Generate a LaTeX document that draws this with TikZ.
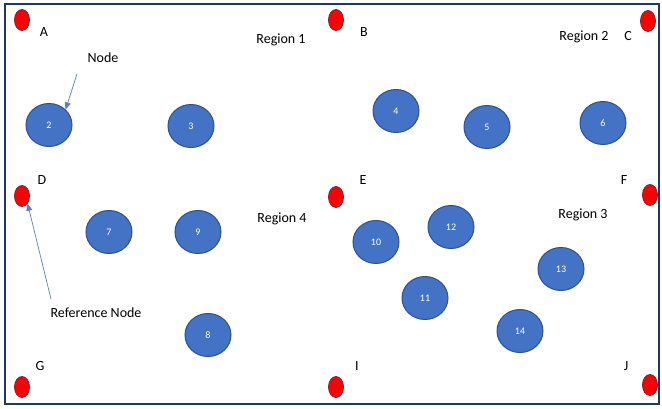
\documentclass[tikz,border=0pt]{standalone}
\usepackage{fontspec}
\setmainfont{Carlito}
\usetikzlibrary{shapes.geometric,arrows.meta}
\definecolor{frame}{HTML}{1F3864}
\definecolor{bluefill}{HTML}{4472C4}
\definecolor{blueline}{HTML}{2F528F}
\definecolor{arrowcol}{HTML}{5B7FB5}
\definecolor{redline}{HTML}{7A1F3D}
\begin{document}
\begin{tikzpicture}[x=1pt,y=-1pt,
  refnode/.style={ellipse,draw=redline,fill=red,line width=0.8pt,minimum width=15pt,minimum height=21pt,inner sep=0pt},
  sensor/.style={ellipse,draw=blueline,fill=bluefill,line width=1pt,minimum width=46pt,minimum height=43pt,inner sep=0pt,text=white,font=\fontsize{10}{12}\selectfont},
  lbl/.style={font=\fontsize{14}{16}\selectfont,text=black,inner sep=0pt},
  pointer/.style={draw=arrowcol,line width=0.7pt,-{Triangle[length=7pt,width=6pt]}}
]
\useasboundingbox (0,0) rectangle (662,409);
\fill[white] (0,0) rectangle (662,409);
\draw[frame,line width=1.6pt] (5,4) rectangle (659,404);
% reference nodes
\node[refnode] (A) at (22,20) {};
\node[refnode] (B) at (336,20) {};
\node[refnode] (C) at (648,21) {};
\node[refnode] (D) at (22,196) {};
\node[refnode] (E) at (336,197) {};
\node[refnode] (F) at (650,195) {};
\node[refnode] (G) at (22,387) {};
\node[refnode] (I) at (336,387) {};
\node[refnode] (J) at (650,385) {};
% letters
\node[lbl] (lA) at (44,32) {A};
\node[lbl] (lB) at (364,32) {B};
\node[lbl] (lC) at (628,36) {C};
\node[lbl] (lD) at (42,180) {D};
\node[lbl] (lE) at (363,180) {E};
\node[lbl] (lF) at (624,180) {F};
\node[lbl] (lG) at (40,366) {G};
\node[lbl] (lI) at (357,366) {I};
\node[lbl] (lJ) at (626,366) {J};
% regions
\node[lbl] (r1) at (281,40) {Region 1};
\node[lbl] (r2) at (584,37) {Region 2};
\node[lbl] (r4) at (282,219) {Region 4};
\node[lbl] (r3) at (583,215) {Region 3};
% sensor nodes
\node[sensor] (n2) at (49,125) {2};
\node[sensor] (n3) at (191,126) {3};
\node[sensor] (n4) at (396,111) {4};
\node[sensor] (n5) at (487,127) {5};
\node[sensor] (n6) at (603,123) {6};
\node[sensor] (n7) at (109,232) {7};
\node[sensor] (n9) at (198,232) {9};
\node[sensor] (n10) at (376,242) {10};
\node[sensor] (n12) at (451,227) {12};
\node[sensor] (n11) at (425,298) {11};
\node[sensor] (n13) at (561,269) {13};
\node[sensor] (n14) at (520,331) {14};
\node[sensor] (n8) at (208,335) {8};
% annotations
\node[lbl] (nodelbl) at (103,58) {Node};
\node[lbl] (reflbl) at (96,313) {Reference Node};
\coordinate (nodetail) at (77,74);
\coordinate (reftail) at (51,299);
\draw[pointer] (nodetail) -- (n2.north east);
\draw[pointer] (reftail) -- (D.south east);
\end{tikzpicture}
\end{document}
